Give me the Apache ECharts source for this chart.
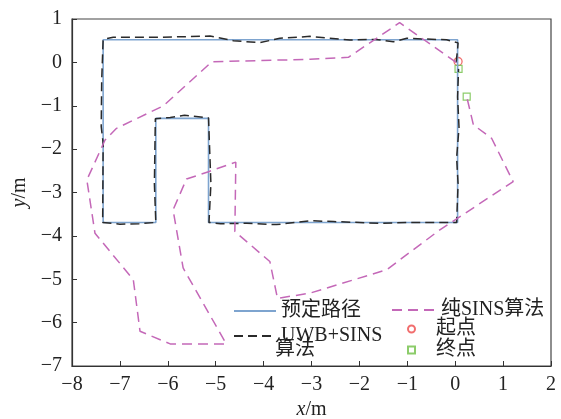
<!DOCTYPE html>
<html>
<head>
<meta charset="utf-8">
<script src="https://cdn.jsdelivr.net/npm/echarts@6/dist/echarts.min.js"></script>
<style>
  html, body { margin: 0; padding: 0; background: #fff; }
  #chart { width: 561px; height: 419px; }
</style>
</head>
<body>
<div id="chart"></div>
<script>
// 预定路径
var planPath = [
    [0.05, 0], [0.05, 0.52], [-7.35, 0.52], [-7.35, -3.69], [-6.25, -3.69],
    [-6.25, -1.29], [-5.15, -1.29], [-5.15, -3.69], [0.05, -3.69], [0.05, 0]
];
// UWB+SINS 算法
var uwbPath = [
    [0.02, 0.0], [0.05, 0.3], [0.06, 0.45], [-0.18, 0.52], [-1.01, 0.555], [-1.29, 0.477],
    [-1.67, 0.53], [-2.2, 0.516], [-3.03, 0.6], [-3.66, 0.555], [-4.08, 0.454], [-4.63, 0.5],
    [-5.12, 0.608], [-6.16, 0.578], [-7.14, 0.578], [-7.35, 0.53], [-7.38, -0.41],
    [-7.39, -1.48], [-7.35, -1.86], [-7.36, -3.69], [-7.0, -3.73], [-6.6, -3.72],
    [-6.25, -3.69], [-6.28, -2.8], [-6.26, -1.3], [-5.95, -1.27], [-5.65, -1.22],
    [-5.15, -1.28], [-5.12, -2.2], [-5.1, -2.8], [-5.14, -3.69], [-4.9, -3.72],
    [-4.35, -3.71], [-3.73, -3.74], [-3.03, -3.65], [-2.54, -3.67], [-1.57, -3.71],
    [-0.94, -3.69], [0.03, -3.69], [0.06, -2.8], [0.03, -2.2], [0.08, -1.5],
    [0.05, -0.8], [0.07, -0.15]
];
// 纯SINS算法
var sinsPath = [
    [0.02, 0.0], [-1.16, 0.915], [-2.23, 0.117], [-3.03, 0.07], [-5.08, 0.016],
    [-6.09, -1.0], [-7.07, -1.52], [-7.31, -1.79], [-7.69, -2.71], [-7.52, -3.94],
    [-6.72, -5.01], [-6.58, -6.2], [-5.95, -6.49], [-4.78, -6.49], [-5.68, -4.74],
    [-5.89, -3.4], [-5.61, -2.69], [-5.15, -2.52], [-4.58, -2.3], [-4.6, -3.9],
    [-3.87, -4.59], [-3.71, -5.44], [-3.03, -5.32], [-1.43, -4.78], [-0.32, -3.86],
    [1.21, -2.75], [0.76, -1.75], [0.38, -1.44], [0.24, -0.79]
];
var startPoint = [[0.06, 0.02]];
var endPoints = [[0.07, -0.15], [0.24, -0.79]];

var serif = '"Liberation Serif", "Times New Roman", "Noto Sans CJK SC", serif';
var minus = function (v) { return String(v).replace('-', '\u2212'); };
var legendText = { fontFamily: serif, fontSize: 20, color: '#222', lineHeight: 19 };
var noMark = { opacity: 0 };

var chart = echarts.init(document.getElementById('chart'));
chart.setOption({
    animation: false,
    grid: {
        left: 72, top: 19, right: 10, bottom: 53,
        outerBoundsMode: 'none', containLabel: false,
        show: true, borderColor: '#444', borderWidth: 1.2
    },
    legend: [{
        left: 228, top: 296, orient: 'vertical', itemGap: 5,
        itemWidth: 42, itemHeight: 12, textStyle: legendText,
        data: [{ name: '预定路径', itemStyle: noMark }, { name: 'UWB+SINS', itemStyle: noMark }]
    }, {
        left: 386, top: 295, orient: 'vertical',
        itemWidth: 44, itemHeight: 12, textStyle: legendText,
        data: [{ name: '纯SINS算法', itemStyle: noMark }]
    }, {
        left: 402, top: 314, orient: 'vertical', itemGap: 1,
        itemWidth: 7, itemHeight: 7,
        textStyle: Object.assign({ padding: [0, 0, 0, 16] }, legendText),
        data: ['起点', '终点']
    }],
    graphic: [{
        type: 'text', left: 275, top: 340,
        style: { text: '算法', font: '20px ' + serif, fill: '#222' }
    }],
    xAxis: {
        type: 'value', min: -8, max: 2, interval: 1,
        name: '{i|x}/m', nameLocation: 'middle', nameGap: 33,
        nameTextStyle: {
            fontFamily: serif, fontSize: 20, color: '#222',
            rich: { i: { fontFamily: serif, fontSize: 20, fontStyle: 'italic', color: '#222' } }
        },
        axisLine: { onZero: false, lineStyle: { color: '#333', width: 1.2 } },
        axisTick: { inside: true, length: 5, lineStyle: { color: '#333' } },
        axisLabel: { fontFamily: serif, fontSize: 20, color: '#222', margin: 9, formatter: minus },
        splitLine: { show: false }
    },
    yAxis: {
        type: 'value', min: -7, max: 1, interval: 1,
        name: '{i|y}/m', nameLocation: 'middle', nameGap: 38, nameRotate: 90,
        nameTextStyle: {
            fontFamily: serif, fontSize: 20, color: '#222',
            rich: { i: { fontFamily: serif, fontSize: 20, fontStyle: 'italic', color: '#222' } }
        },
        axisLine: { onZero: false, lineStyle: { color: '#333', width: 1.2 } },
        axisTick: { inside: true, length: 5, lineStyle: { color: '#333' } },
        axisLabel: { fontFamily: serif, fontSize: 20, color: '#222', margin: 10, formatter: minus },
        splitLine: { show: false }
    },
    series: [{
        name: '预定路径', type: 'line', data: planPath, symbol: 'none',
        lineStyle: { color: '#7ea4cf', width: 1.6 }, itemStyle: { color: '#7ea4cf' }
    }, {
        name: 'UWB+SINS', type: 'line', data: uwbPath, symbol: 'none',
        lineStyle: { color: '#2a2a2a', width: 1.5, type: [9, 5] }, itemStyle: { color: '#2a2a2a' }
    }, {
        name: '纯SINS算法', type: 'line', data: sinsPath, symbol: 'none',
        lineStyle: { color: '#c468b8', width: 1.5, type: [10, 6] }, itemStyle: { color: '#c468b8' }
    }, {
        name: '起点', type: 'scatter', data: startPoint, symbol: 'circle', symbolSize: 8,
        itemStyle: { color: 'transparent', borderColor: '#ee4a4a', borderWidth: 1.3 }
    }, {
        name: '终点', type: 'scatter', data: endPoints, symbol: 'rect', symbolSize: 7,
        itemStyle: { color: 'transparent', borderColor: '#6fbf45', borderWidth: 1.2 }
    }]
});
</script>
</body>
</html>
